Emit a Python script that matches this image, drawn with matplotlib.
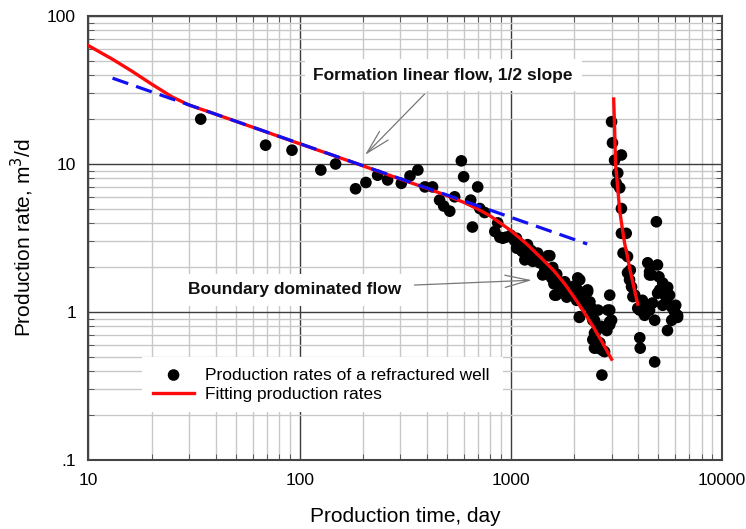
import numpy as np
import matplotlib
matplotlib.use('Agg')
import matplotlib.pyplot as plt
from matplotlib.ticker import FixedLocator, FixedFormatter, LogLocator, NullFormatter

plt.rcParams['font.family'] = ['Liberation Sans', 'DejaVu Sans']

# measured production rates (day, m3/d)
t_obs = [34, 69, 92, 126, 148, 184, 206, 234, 261, 303, 333, 363, 392, 426, 460, 481, 514, 542,
         583, 598, 646, 658, 697, 713, 752, 840, 867, 887, 916, 947, 1000, 1040, 1064, 1066, 1100,
         1123, 1140, 1165, 1198, 1200, 1250, 1270, 1270, 1300, 1340, 1370, 1415, 1450, 1450, 1500,
         1530, 1560, 1580, 1600, 1615, 1640, 1650, 1700, 1740, 1740, 1760, 1800, 1840, 1900, 1940,
         1950, 2000, 2050, 2075, 2075, 2110, 2120, 2120, 2200, 2240, 2310, 2310, 2360, 2370, 2404,
         2415, 2445, 2445, 2490, 2490, 2490, 2550, 2590, 2590, 2640, 2680, 2700, 2720, 2780, 2850,
         2880, 2940, 2940, 2940, 2940, 3000,
         3000, 3030, 3100, 3160, 3210, 3280, 3340, 3340, 3340, 3400, 3520, 3570, 3570, 3650, 3680,
         3730, 3785, 3860, 3990, 4075, 4080, 4100, 4200, 4300, 4390, 4450, 4540, 4540, 4540, 4640,
         4690, 4800, 4800, 4890, 4950, 4955, 5030, 5070, 5240, 5240, 5360, 5470, 5520, 5530, 5650,
         5780, 5780, 5830, 5970, 6040, 6160, 6160]
q_obs = [20.1, 13.4, 12.4, 9.1, 10.0, 6.8, 7.5, 8.4, 7.8, 7.4, 8.3, 9.1, 7.0, 7.0, 5.7, 5.2, 4.8, 6.0,
         10.5, 8.2, 5.7, 3.75, 7.0, 5.0, 4.7, 3.5, 4.0, 3.2, 3.15, 3.2, 3.3, 3.05, 3.15, 2.7, 2.9,
         2.6, 2.55, 2.25, 2.75, 2.85, 2.6, 2.4, 2.2, 2.35, 2.5, 2.15, 1.78, 2.0, 1.9, 2.4,
         2.4, 1.7, 2.0, 1.55, 1.3, 1.3, 1.8, 1.45, 1.36, 1.57, 1.37, 1.6, 1.26, 1.47, 1.45,
         1.3, 1.5, 1.2, 1.7, 1.41, 0.92, 1.65, 0.93, 1.3, 1.11, 1.37, 1.41, 1.1, 1.17, 0.98,
         1.06, 0.88, 0.65, 0.88, 0.57, 0.72, 0.75, 1.03, 0.57, 0.62, 0.8, 0.375, 0.55, 0.54, 0.75,
         1.03, 1.3, 1.03, 0.86, 0.82, 0.88,
         19.3, 13.9, 10.6, 7.4, 8.7, 6.9, 11.5, 5.0, 3.4, 2.5, 3.4, 2.37, 1.84, 1.65, 1.92,
         1.48, 1.27, 1.3, 1.06, 1.03, 0.67, 0.57, 1.2, 0.95, 1.06, 2.15, 1.78, 1.03, 1.87, 1.78,
         1.15, 0.88, 0.46, 4.07, 2.08, 1.34, 1.73, 1.41, 1.57, 1.11, 1.3, 1.2, 0.75, 1.47, 1.3,
         1.08, 0.88, 1.09, 1.0, 1.11, 0.95, 0.92]

# fitted curve before refracturing
t_fit1 = [10, 13, 16, 20, 25, 30, 40, 50, 70, 100, 150, 200, 300, 400, 500, 600, 700, 800, 900,
          1000, 1200, 1400, 1600, 1800, 2000, 2200, 2450, 2700, 3000]
q_fit1 = [63, 51, 42.5, 34.5, 28.3, 25, 21.7, 19.4, 16.4, 13.7, 11.2, 9.7, 7.9, 6.85, 6.1, 5.5, 4.95,
          4.45, 3.95, 3.55, 2.85, 2.3, 1.9, 1.55, 1.25, 1.02, 0.8, 0.63, 0.48]
# fitted curve after refracturing
t_fit2 = [3070, 3100, 3133, 3200, 3275, 3370, 3460, 3560, 3654, 3800, 3990]
q_fit2 = [27.5, 17.7, 10.1, 7.2, 4.9, 3.7, 2.91, 2.4, 1.97, 1.54, 1.13]
# half slope line
t_half = [13, 2300]
q_half = [38, 2.88]

fig = plt.figure(figsize=(7.46, 5.29), dpi=100)
ax = fig.add_axes([0.1186, 0.1304, 0.9678 - 0.1186, 0.9698 - 0.1304])
ax.set_xscale('log')
ax.set_yscale('log')
ax.set_xlim(10, 10000)
ax.set_ylim(0.1, 100)

# grid
ax.grid(which='minor', color='#c8c8c8', lw=1.0, zorder=0)
ax.grid(which='major', color='#3c3c3c', lw=1.0, zorder=0)
ax.set_axisbelow(True)

ax.scatter(t_obs, q_obs, s=70, color='k', edgecolor='none', zorder=3,
           label='Production rates of a refractured well')
ax.plot(t_fit1, q_fit1, color='#ff0a0a', lw=2.4, zorder=4, label='Fitting production rates')
ax.plot(t_fit2, q_fit2, color='#ff0a0a', lw=2.4, zorder=4)
ax.plot(t_half, q_half, color='#1010f0', lw=2.3, dashes=(5.2, 2.6), zorder=5)

# ticks
ax.xaxis.set_major_locator(FixedLocator([10, 100, 1000, 10000]))
ax.xaxis.set_major_formatter(FixedFormatter(['10', '100', '1000', '10000']))
ax.yaxis.set_major_locator(FixedLocator([0.1, 1, 10, 100]))
ax.yaxis.set_major_formatter(FixedFormatter(['.1', '1', '10', '100']))
for a in (ax.xaxis, ax.yaxis):
    a.set_minor_locator(LogLocator(base=10, subs=np.arange(2, 10)))
    a.set_minor_formatter(NullFormatter())
ax.tick_params(which='both', direction='in', top=True, right=True, color='#444444')
ax.tick_params(which='major', length=0, labelsize=12.5, pad=9)
ax.tick_params(which='minor', length=4)
for s in ax.spines.values():
    s.set_color('#444444')
    s.set_linewidth(1.5)

ax.set_xlabel('Production time, day', fontsize=15, labelpad=14)
ax.set_ylabel('Production rate, m$^3$/d', fontsize=15, labelpad=8)

# annotations
arw = dict(arrowstyle='->, head_length=1.4, head_width=0.35', color='#777777', lw=0.9,
           shrinkA=3, shrinkB=0)
ax.annotate('Formation linear flow, 1/2 slope', xy=(0.4365, 0.687), xycoords='axes fraction',
            xytext=(0.56, 0.867), textcoords='axes fraction', ha='center', va='center',
            fontsize=12.5, fontweight='bold', color='#111111',
            bbox=dict(boxstyle='square,pad=0.5', fc='white', ec='none'),
            arrowprops=arw, zorder=6)
ax.annotate('Boundary dominated flow', xy=(0.70, 0.405), xycoords='axes fraction',
            xytext=(0.326, 0.383), textcoords='axes fraction', ha='center', va='center',
            fontsize=12.5, fontweight='bold', color='#111111',
            bbox=dict(boxstyle='square,pad=0.5', fc='white', ec='none'),
            arrowprops=arw, zorder=6)

leg = ax.legend(loc='upper left', bbox_to_anchor=(0.085, 0.079, 0.57, 0.153), mode='expand',
                fontsize=12.5, frameon=True, fancybox=False, framealpha=1, edgecolor='none',
                handlelength=2.4, handletextpad=0.6, labelspacing=0.25, borderpad=0.6,
                borderaxespad=0)
leg.set_zorder(7)

fig.savefig('out.png', dpi=100)
